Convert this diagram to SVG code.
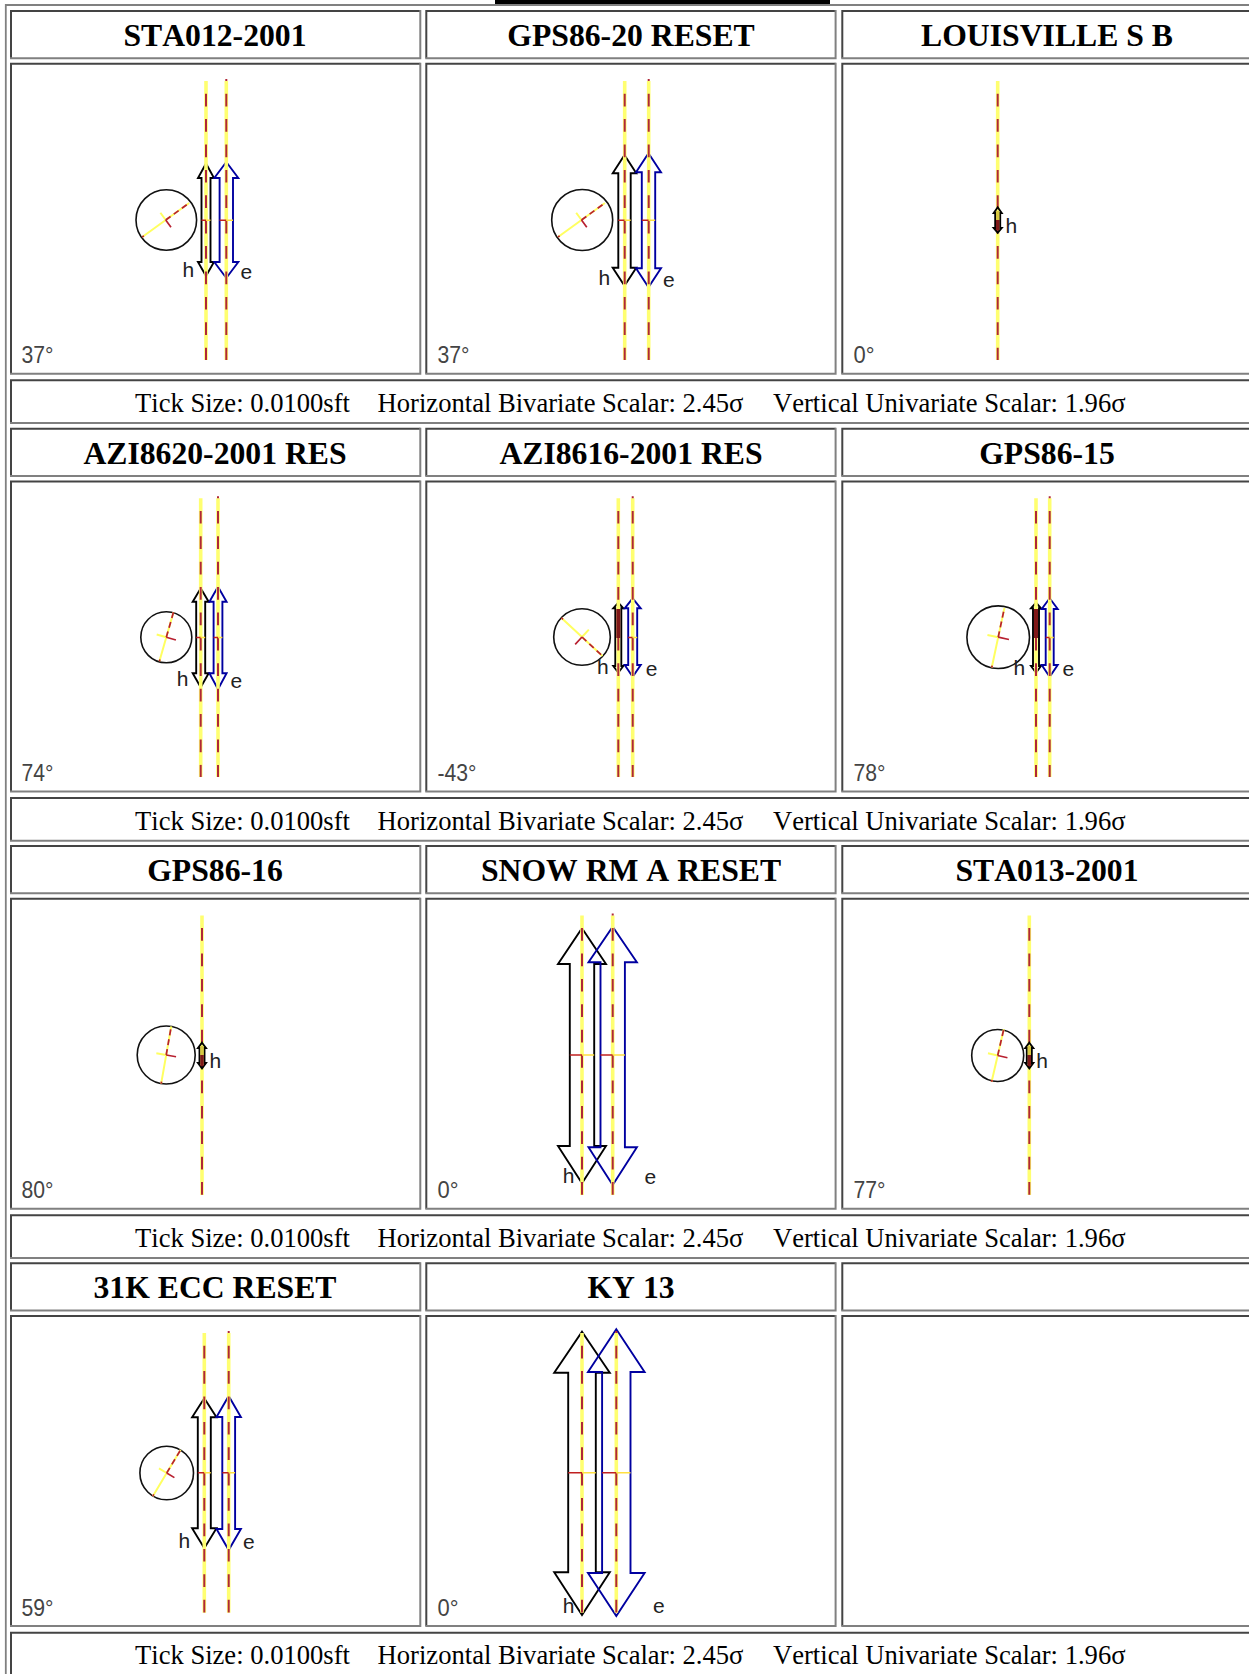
<svg xmlns="http://www.w3.org/2000/svg" width="1249" height="1674" viewBox="0 0 1249 1674">
<style>
.d{fill:none;stroke:#444;stroke-width:2}
.g{fill:none;stroke:#808080;stroke-width:2}
.title{font:bold 31.7px "Liberation Serif",serif;font-kerning:none;text-anchor:middle;fill:#000}
.foot{font:26.6px "Liberation Serif",serif;font-kerning:none;fill:#000}
.ang{font:24px "Liberation Sans",sans-serif;fill:#444}
.lab{font:21px "Liberation Sans",sans-serif;fill:#222}
.y{stroke:#ffff70;stroke-width:3.6;fill:none}
.r{stroke:#b02838;stroke-width:2;fill:none;stroke-dasharray:12.7 12.7;stroke-dashoffset:12.7}
.r2{stroke:#b02838;stroke-width:2;fill:none;stroke-dasharray:12.7 12.7;stroke-dashoffset:10.7}
.ah{fill:none;stroke:#000;stroke-width:1.9}
.ae{fill:none;stroke:#0000a0;stroke-width:1.9}
.c{fill:none;stroke:#111;stroke-width:1.6}
.my{stroke:#ffff60;stroke-width:2;fill:none}
.mr{stroke:#b82030;stroke-width:1.7;fill:none}
.md{stroke:#b82030;stroke-width:1.7;fill:none;stroke-dasharray:6 4}
.ty{stroke:#ffe040;stroke-width:1.5}
.tr{stroke:#c02020;stroke-width:1.5}
.dk{fill:#801818}
.yl{fill:#d8c840}
</style>
<defs>
<g id="ft"><path class="d" d="M1,48.3V1H410.3"/><path class="g" d="M0,48.3H410.3V0"/></g>
<g id="fi"><path class="d" d="M1,311V1H410.3"/><path class="g" d="M0,311H410.3V0"/></g>
<g id="ff"><path class="d" d="M1,43.7V1H1300"/><path class="g" d="M0,43.7H1300"/></g>
<g id="ftext"><text class="foot" y="0"><tspan x="135">Tick Size: 0.0100sft</tspan><tspan x="377.6">Horizontal Bivariate Scalar: 2.45σ</tspan><tspan x="773">Vertical Univariate Scalar: 1.96σ</tspan></text></g>
</defs>
<rect width="1249" height="1674" fill="#fff"/>
<rect x="495" y="0" width="335" height="4" fill="#000"/>
<path d="M5.8,1674V5H1249" fill="none" stroke="#808080" stroke-width="1.8"/>

<g id="panel-sta012">
<use href="#ft" x="10" y="10"/><use href="#fi" x="10" y="62.7"/>
<text class="title" x="215" y="46">STA012-2001</text>
<polygon class="ah" points="206,163.5 214,178 210.5,178 210.5,262 214,262 206,276 198,262 201.5,262 201.5,178 198,178"/>
<polygon class="ae" points="226.3,162 238.3,178 233,178 233,262 238.3,262 226.3,278 214.3,262 219.6,262 219.6,178 214.3,178"/>
<line class="y" x1="206" x2="206" y1="81" y2="360"/><line class="r" x1="206" x2="206" y1="81" y2="360"/>
<line class="y" x1="226.3" x2="226.3" y1="81" y2="360"/><line class="r2" x1="226.3" x2="226.3" y1="79" y2="360"/>
<path class="tr" d="M201.5,220.3H206M219.6,220.3H226.3"/><path class="ty" d="M206,220.3H210.5M226.3,220.3H233"/>
<circle class="c" cx="166.3" cy="220" r="30.3"/>
<g transform="translate(165.7,220) rotate(-36)"><path class="my" d="M-29,0H29M0,0V-9"/><path class="mr" d="M0,0V9M-29,0H-27"/><path class="md" d="M0,0H29"/></g>
<text class="lab" x="182.500" y="277">h</text><text class="lab" x="240.500" y="278.700">e</text>
<text class="ang" x="21.500" y="363" textLength="32" lengthAdjust="spacingAndGlyphs">37°</text>
</g>

<g id="panel-gps86-20">
<use href="#ft" x="425.300" y="10"/><use href="#fi" x="425.300" y="62.700"/>
<text class="title" x="631" y="46">GPS86-20 RESET</text>
<polygon class="ah" points="624.5,155 636.3,173.3 630.7,173.3 630.7,267.7 636.3,267.7 624.5,285.7 612.7,267.7 618.3,267.7 618.3,173.3 612.7,173.3"/>
<polygon class="ae" points="648.5,153.3 661,172.3 655.2,172.3 655.2,268.3 661,268.3 648.5,287.3 636,268.3 641.8,268.3 641.8,172.3 636,172.3"/>
<line class="y" x1="624.700" x2="624.700" y1="81" y2="360"/><line class="r" x1="624.700" x2="624.700" y1="81" y2="360"/>
<line class="y" x1="648.700" x2="648.700" y1="81" y2="360"/><line class="r2" x1="648.700" x2="648.700" y1="79" y2="360"/>
<path class="tr" d="M618.3,220.3H624.7M641.8,220.3H648.7"/><path class="ty" d="M624.7,220.3H630.7M648.7,220.3H655.2"/>
<circle class="c" cx="582.200" cy="220" r="30.500"/>
<g transform="translate(581.500,220) rotate(-36)"><path class="my" d="M-29,0H29M0,0V-9"/><path class="mr" d="M0,0V9M-29,0H-27"/><path class="md" d="M0,0H29"/></g>
<text class="lab" x="598.500" y="285">h</text><text class="lab" x="663" y="287">e</text>
<text class="ang" x="437.500" y="363" textLength="32" lengthAdjust="spacingAndGlyphs">37°</text>
</g>

<g id="panel-louisville">
<use href="#ft" x="841.300" y="10"/><use href="#fi" x="841.300" y="62.700"/>
<text class="title" x="1047" y="46">LOUISVILLE S B</text>
<line class="y" x1="997.700" x2="997.700" y1="81" y2="360"/><line class="r" x1="997.700" x2="997.700" y1="81" y2="360"/>
<polygon class="ah" points="997.7,207.3 1001.7,213 1000.2,213 1000.2,228 1001.7,228 997.7,232.7 993.7,228 995.2,228 995.2,213 993.7,213"/>
<rect class="yl" x="996" y="211" width="3.400" height="9"/><rect class="dk" x="996" y="220" width="3.400" height="10"/>
<text class="lab" x="1005.500" y="232.700">h</text>
<text class="ang" x="853.500" y="363" textLength="21" lengthAdjust="spacingAndGlyphs">0°</text>
</g>

<g id="footer-1"><use href="#ff" x="10" y="379.300"/><use href="#ftext" y="412"/></g>

<g id="panel-azi8620">
<use href="#ft" x="10" y="427.800"/><use href="#fi" x="10" y="480.500"/>
<text class="title" x="215" y="463.800">AZI8620-2001 RES</text>
<polygon class="ah" points="200.7,588.3 208.7,601.7 205.2,601.7 205.2,673.3 208.7,673.3 200.7,687.3 192.7,673.3 196.2,673.3 196.2,601.7 192.7,601.7"/>
<polygon class="ae" points="218,586.7 226.6,601.7 222.4,601.7 222.4,673.3 226.6,673.3 218,689.3 209.4,673.3 213.6,673.3 213.6,601.7 209.4,601.7"/>
<line class="y" x1="200.700" x2="200.700" y1="498.200" y2="777"/><line class="r" x1="200.700" x2="200.700" y1="498.200" y2="777"/>
<line class="y" x1="218" x2="218" y1="498.200" y2="777"/><line class="r2" x1="218" x2="218" y1="496.200" y2="777"/>
<path class="tr" d="M196.2,637.5H200.7M213.6,637.5H218"/><path class="ty" d="M200.7,637.5H205.2M218,637.5H222.4"/>
<circle class="c" cx="166.300" cy="637.300" r="25.500"/>
<g transform="translate(166.300,637.300) rotate(-74)"><path class="my" d="M-25,0H26M0,0V-10"/><path class="mr" d="M0,0V10M-25,0H-23"/><path class="md" d="M0,0H26"/></g>
<text class="lab" x="176.800" y="686">h</text><text class="lab" x="230.500" y="688.300">e</text>
<text class="ang" x="21.500" y="780.500" textLength="32" lengthAdjust="spacingAndGlyphs">74°</text>
</g>

<g id="panel-azi8616">
<use href="#ft" x="425.300" y="427.800"/><use href="#fi" x="425.300" y="480.500"/>
<text class="title" x="631" y="463.800">AZI8616-2001 RES</text>
<polygon class="ah" points="618.3,602.7 623.3,608.3 621.3,608.3 621.3,666 623.3,666 618.3,672.7 613.3,666 615.3,666 615.3,608.3 613.3,608.3"/>
<polygon class="ae" points="632.7,598.3 640.7,608.3 637.2,608.3 637.2,665 640.7,665 632.7,676.7 624.7,665 628.2,665 628.2,608.3 624.7,608.3"/>
<line class="y" x1="618.300" x2="618.300" y1="498.200" y2="777"/><line class="r" x1="618.300" x2="618.300" y1="498.200" y2="777"/>
<line class="y" x1="632.700" x2="632.700" y1="498.200" y2="777"/><line class="r2" x1="632.700" x2="632.700" y1="496.200" y2="777"/>
<rect class="dk" x="616.300" y="609" width="4" height="29"/>
<path class="tr" d="M628.2,637.5H632.7"/><path class="ty" d="M632.7,637.5H637.2"/>
<circle class="c" cx="582" cy="637" r="28.300"/>
<g transform="translate(582,637) rotate(43)"><path class="my" d="M-28,0H28M0,0V-10"/><path class="mr" d="M0,0V10M-28,0H-26"/><path class="md" d="M0,0H28"/></g>
<text class="lab" x="597" y="674">h</text><text class="lab" x="645.700" y="675.700">e</text>
<text class="ang" x="437.500" y="780.500" textLength="39" lengthAdjust="spacingAndGlyphs">-43°</text>
</g>

<g id="panel-gps86-15">
<use href="#ft" x="841.300" y="427.800"/><use href="#fi" x="841.300" y="480.500"/>
<text class="title" x="1047" y="463.800">GPS86-15</text>
<polygon class="ah" points="1036,602.7 1041,608.3 1039,608.3 1039,666 1041,666 1036,672.7 1031,666 1033,666 1033,608.3 1031,608.3"/>
<polygon class="ae" points="1049.7,598.3 1057.7,609 1053.7,609 1053.7,665 1057.7,665 1049.7,676.7 1041.7,665 1045.7,665 1045.7,609 1041.7,609"/>
<line class="y" x1="1036" x2="1036" y1="498.200" y2="777"/><line class="r" x1="1036" x2="1036" y1="498.200" y2="777"/>
<line class="y" x1="1049.700" x2="1049.700" y1="498.200" y2="777"/><line class="r2" x1="1049.700" x2="1049.700" y1="496.200" y2="777"/>
<rect class="dk" x="1034" y="609" width="4" height="29"/>
<path class="tr" d="M1045.7,637.5H1049.7"/><path class="ty" d="M1049.7,637.5H1053.7"/>
<circle class="c" cx="998.200" cy="637.200" r="31.300"/>
<g transform="translate(998.200,637.200) rotate(-78)"><path class="my" d="M-31,0H30M0,0V-11"/><path class="mr" d="M0,0V11M-31,0H-29"/><path class="md" d="M0,0H30"/></g>
<text class="lab" x="1013.500" y="675">h</text><text class="lab" x="1062.500" y="675.700">e</text>
<text class="ang" x="853.500" y="780.500" textLength="32" lengthAdjust="spacingAndGlyphs">78°</text>
</g>

<g id="footer-2"><use href="#ff" x="10" y="797.100"/><use href="#ftext" y="829.800"/></g>

<g id="panel-gps86-16">
<use href="#ft" x="10" y="845"/><use href="#fi" x="10" y="897.700"/>
<text class="title" x="215" y="881">GPS86-16</text>
<line class="y" x1="202" x2="202" y1="915.400" y2="1195"/><line class="r" x1="202" x2="202" y1="915.400" y2="1195"/>
<polygon class="ah" points="202,1042.7 206,1048 204.5,1048 204.5,1063 206,1063 202,1068.3 198,1063 199.5,1063 199.5,1048 198,1048"/>
<rect class="yl" x="200.300" y="1046" width="3.400" height="9"/><rect class="dk" x="200.300" y="1055" width="3.400" height="11"/>
<circle class="c" cx="166.200" cy="1055" r="29"/>
<g transform="translate(166.200,1055) rotate(-80)"><path class="my" d="M-29,0H29M0,0V-10"/><path class="mr" d="M0,0V10M-29,0H-27"/><path class="md" d="M0,0H29"/></g>
<text class="lab" x="209.500" y="1068.300">h</text>
<text class="ang" x="21.500" y="1197.800" textLength="32" lengthAdjust="spacingAndGlyphs">80°</text>
</g>

<g id="panel-snow-rm">
<use href="#ft" x="425.300" y="845"/><use href="#fi" x="425.300" y="897.700"/>
<text class="title" x="631" y="881">SNOW RM A RESET</text>
<polygon class="ah" points="582,928.3 606,964 594.2,964 594.2,1146 606,1146 582,1183.3 558,1146 569.8,1146 569.8,964 558,964"/>
<polygon class="ae" points="612.7,926.7 636.9,962.3 624.9,962.3 624.9,1147.3 636.9,1147.3 612.7,1185 588.5,1147.3 600.5,1147.3 600.5,962.3 588.5,962.3"/>
<line class="y" x1="582" x2="582" y1="915.400" y2="1195"/><line class="r" x1="582" x2="582" y1="915.400" y2="1195"/>
<line class="y" x1="612.700" x2="612.700" y1="915.400" y2="1195"/><line class="r2" x1="612.700" x2="612.700" y1="913.400" y2="1195"/>
<path class="tr" d="M569.8,1055H582M600.5,1055H612.7"/><path class="ty" d="M582,1055H594.2M612.7,1055H624.9"/>
<text class="lab" x="562.800" y="1182.700">h</text><text class="lab" x="644.500" y="1184">e</text>
<text class="ang" x="437.500" y="1197.800" textLength="21" lengthAdjust="spacingAndGlyphs">0°</text>
</g>

<g id="panel-sta013">
<use href="#ft" x="841.300" y="845"/><use href="#fi" x="841.300" y="897.700"/>
<text class="title" x="1047" y="881">STA013-2001</text>
<line class="y" x1="1029.300" x2="1029.300" y1="915.400" y2="1195"/><line class="r" x1="1029.300" x2="1029.300" y1="915.400" y2="1195"/>
<polygon class="ah" points="1029.3,1042.7 1033.3,1048 1031.8,1048 1031.8,1063 1033.3,1063 1029.3,1068.3 1025.3,1063 1026.8,1063 1026.8,1048 1025.3,1048"/>
<rect class="yl" x="1027.600" y="1046" width="3.400" height="9"/><rect class="dk" x="1027.600" y="1055" width="3.400" height="11"/>
<circle class="c" cx="997.700" cy="1055.500" r="26"/>
<g transform="translate(997.700,1055.500) rotate(-77)"><path class="my" d="M-27,0H27M0,0V-10"/><path class="mr" d="M0,0V10M-27,0H-25"/><path class="md" d="M0,0H27"/></g>
<text class="lab" x="1036.200" y="1068.300">h</text>
<text class="ang" x="853.500" y="1197.800" textLength="32" lengthAdjust="spacingAndGlyphs">77°</text>
</g>

<g id="footer-3"><use href="#ff" x="10" y="1214.300"/><use href="#ftext" y="1247"/></g>

<g id="panel-31k">
<use href="#ft" x="10" y="1262.200"/><use href="#fi" x="10" y="1315"/>
<text class="title" x="215" y="1298.200">31K ECC RESET</text>
<polygon class="ah" points="204.3,1398.3 216.5,1417.3 210.8,1417.3 210.8,1528.3 216.5,1528.3 204.3,1548.3 192.1,1528.3 197.8,1528.3 197.8,1417.3 192.1,1417.3"/>
<polygon class="ae" points="228.7,1396 240.9,1417 235.1,1417 235.1,1529 240.9,1529 228.7,1550 216.5,1529 222.3,1529 222.3,1417 216.5,1417"/>
<line class="y" x1="204.300" x2="204.300" y1="1333" y2="1612.700"/><line class="r" x1="204.300" x2="204.300" y1="1333" y2="1612.700"/>
<line class="y" x1="228.700" x2="228.700" y1="1333" y2="1612.700"/><line class="r2" x1="228.700" x2="228.700" y1="1331" y2="1612.700"/>
<path class="tr" d="M197.8,1472.700H204.3M222.3,1472.700H228.700"/><path class="ty" d="M204.3,1472.700H210.8M228.7,1472.700H235.100"/>
<circle class="c" cx="166.700" cy="1473" r="26.800"/>
<g transform="translate(166.700,1473) rotate(-59)"><path class="my" d="M-27,0H27M0,0V-9"/><path class="mr" d="M0,0V9M-27,0H-25"/><path class="md" d="M0,0H27"/></g>
<text class="lab" x="178.500" y="1547.700">h</text><text class="lab" x="243" y="1549.300">e</text>
<text class="ang" x="21.500" y="1615.500" textLength="32" lengthAdjust="spacingAndGlyphs">59°</text>
</g>

<g id="panel-ky13">
<use href="#ft" x="425.300" y="1262.200"/><use href="#fi" x="425.300" y="1315"/>
<text class="title" x="631" y="1298.200">KY 13</text>
<polygon class="ah" points="582,1331.7 609.8,1372.7 595.8,1372.7 595.8,1572.3 609.8,1572.3 582,1615 554.2,1572.3 568.2,1572.3 568.2,1372.7 554.2,1372.7"/>
<polygon class="ae" points="616.3,1329.3 644.6,1372 630.5,1372 630.5,1573 644.6,1573 616.3,1616 588,1573 602.1,1573 602.1,1372 588,1372"/>
<line class="y" x1="582" x2="582" y1="1333" y2="1612.700"/><line class="r" x1="582" x2="582" y1="1333" y2="1612.700"/>
<line class="y" x1="616.300" x2="616.300" y1="1333" y2="1612.700"/><line class="r2" x1="616.300" x2="616.300" y1="1331" y2="1612.700"/>
<path class="tr" d="M568.2,1472.700H582M602.1,1472.700H616.300"/><path class="ty" d="M582,1472.700H595.800M616.3,1472.700H630.500"/>
<text class="lab" x="562.800" y="1612.700">h</text><text class="lab" x="653" y="1613.300">e</text>
<text class="ang" x="437.500" y="1615.500" textLength="21" lengthAdjust="spacingAndGlyphs">0°</text>
</g>

<g id="panel-empty">
<use href="#ft" x="841.300" y="1262.200"/><use href="#fi" x="841.300" y="1315"/>
</g>

<g id="footer-4"><use href="#ff" x="10" y="1631.700"/><use href="#ftext" y="1664.300"/></g>
</svg>
